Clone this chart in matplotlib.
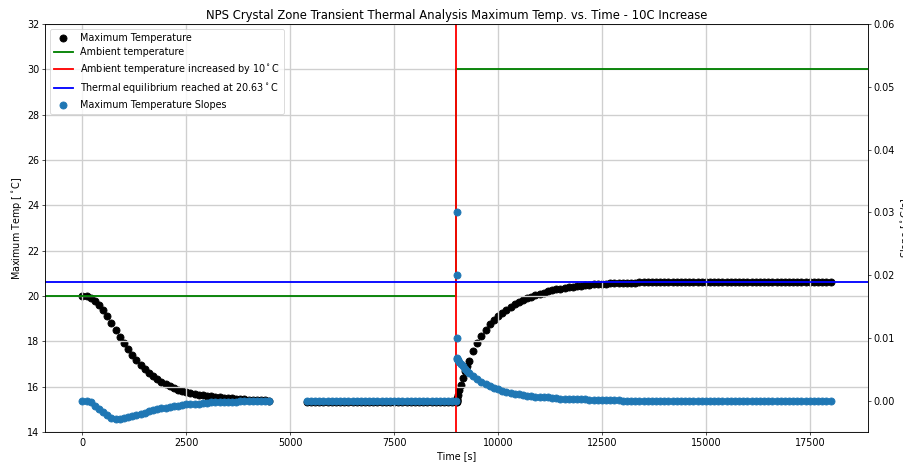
import matplotlib
matplotlib.use("Agg")
import matplotlib.pyplot as plt
import numpy as np

# --- data --------------------------------------------------------------
# cooldown phase (ambient 20 C)
time_1 = [0, 100, 200, 300, 400, 500, 600, 700, 800, 900,
          1000, 1100, 1200, 1300, 1400, 1500, 1600, 1700, 1800, 1900,
          2000, 2100, 2200, 2300, 2400, 2500, 2600, 2700, 2800, 2900,
          3000, 3100, 3200, 3300, 3400, 3500, 3600, 3700, 3800, 3900,
          4000, 4100, 4200, 4300, 4400, 4500]
temp_1 = [20.00, 19.98, 19.92, 19.80, 19.62, 19.38, 19.10, 18.80, 18.50, 18.20,
          17.92, 17.65, 17.40, 17.17, 16.96, 16.77, 16.60, 16.45, 16.32, 16.20,
          16.10, 16.01, 15.93, 15.86, 15.80, 15.75, 15.71, 15.67, 15.65, 15.62,
          15.60, 15.58, 15.56, 15.54, 15.52, 15.50, 15.48, 15.47, 15.45, 15.44,
          15.43, 15.42, 15.41, 15.40, 15.39, 15.38]
slope_1 = [0.0000, -0.0001, -0.0003, -0.0008, -0.0013, -0.0018, -0.0023, -0.0027, -0.0029, -0.0029,
           -0.0028, -0.0026, -0.0025, -0.0023, -0.0021, -0.0019, -0.0017, -0.0015, -0.0013, -0.0012,
           -0.0011, -0.0010, -0.0009, -0.0008, -0.0007, -0.0006, -0.0006, -0.0005, -0.0005, -0.0004,
           -0.0004, -0.0003, -0.0003, -0.0003, -0.0002, -0.0002, -0.0002, -0.0002, -0.0001, -0.0001,
           -0.0001, -0.0001, -0.0001, 0.0000, 0.0000, 0.0000]

# steady state before the step
time_2 = [5400, 5500, 5600, 5700, 5800, 5900, 6000, 6100, 6200, 6300,
          6400, 6500, 6600, 6700, 6800, 6900, 7000, 7100, 7200, 7300,
          7400, 7500, 7600, 7700, 7800, 7900, 8000, 8100, 8200, 8300,
          8400, 8500, 8600, 8700, 8800, 8900, 9000]
temp_2 = [15.34, 15.34, 15.34, 15.34, 15.34, 15.34, 15.34, 15.34, 15.34, 15.34,
          15.34, 15.33, 15.33, 15.33, 15.33, 15.33, 15.33, 15.33, 15.33, 15.33,
          15.33, 15.33, 15.33, 15.33, 15.33, 15.33, 15.33, 15.33, 15.33, 15.33,
          15.33, 15.33, 15.33, 15.33, 15.33, 15.33, 15.33]
slope_2 = [0.0] * 37

# warm-up after ambient +10 C
time_3 = [9001, 9003, 9006, 9010, 9020, 9040, 9070, 9100, 9150, 9200,
          9250, 9300, 9400, 9500, 9600, 9700, 9800, 9900, 10000, 10100,
          10200, 10300, 10400, 10500, 10600, 10700, 10800, 10900, 11000, 11100,
          11200, 11300, 11400, 11500, 11600, 11700, 11800, 11900, 12000, 12100,
          12200, 12300, 12400, 12500, 12600, 12700, 12800, 12900, 13000, 13100,
          13200, 13300, 13400, 13500, 13600, 13700, 13800, 13900, 14000, 14100,
          14200, 14300, 14400, 14500, 14600, 14700, 14800, 14900, 15000, 15100,
          15200, 15300, 15400, 15500, 15600, 15700, 15800, 15900, 16000, 16100,
          16200, 16300, 16400, 16500, 16600, 16700, 16800, 16900, 17000, 17100,
          17200, 17300, 17400, 17500, 17600, 17700, 17800, 17900, 18000]
temp_3 = [15.34, 15.36, 15.39, 15.42, 15.49, 15.63, 15.86, 16.08, 16.40, 16.67,
          16.92, 17.15, 17.58, 17.94, 18.25, 18.52, 18.75, 18.94, 19.11, 19.26,
          19.40, 19.52, 19.63, 19.73, 19.82, 19.90, 19.97, 20.04, 20.10, 20.15,
          20.20, 20.25, 20.29, 20.32, 20.35, 20.38, 20.41, 20.43, 20.45, 20.47,
          20.49, 20.51, 20.52, 20.54, 20.55, 20.56, 20.57, 20.58, 20.58, 20.59,
          20.59, 20.59, 20.60, 20.60, 20.60, 20.61, 20.61, 20.61, 20.61, 20.62,
          20.62, 20.62, 20.62, 20.62, 20.62, 20.62, 20.62, 20.63, 20.62, 20.62,
          20.63, 20.62, 20.62, 20.63, 20.62, 20.63, 20.62, 20.62, 20.63, 20.62,
          20.63, 20.62, 20.62, 20.63, 20.62, 20.62, 20.63, 20.62, 20.62, 20.63,
          20.62, 20.62, 20.63, 20.62, 20.62, 20.63, 20.62, 20.62, 20.62]
slope_3 = [0.0300, 0.0200, 0.0100, 0.0068, 0.0067, 0.0065, 0.0062, 0.0059, 0.0055, 0.0051,
           0.0047, 0.0044, 0.0039, 0.0034, 0.0030, 0.0026, 0.0023, 0.0020, 0.0018, 0.0016,
           0.0014, 0.0012, 0.0011, 0.0010, 0.0009, 0.0008, 0.0007, 0.0006, 0.0006, 0.0005,
           0.0005, 0.0004, 0.0004, 0.0003, 0.0003, 0.0003, 0.0002, 0.0002, 0.0002, 0.0002,
           0.0001, 0.0001, 0.0001, 0.0001, 0.0001, 0.0001, 0.0001, 0.0001, 0.0000] + [0.0] * 50

ambient_start = 20.0
ambient_raised = 30.0
step_time = 9000
equilibrium_temp = 20.63

time = time_1 + time_2 + time_3
max_temp = temp_1 + temp_2 + temp_3
max_slope = slope_1 + slope_2 + slope_3

# --- figure (drawn at 60 dpi, the original was a larger figure scaled down)
plt.rcParams.update({
    'font.size': 11.5,
    'axes.titlesize': 13.9,
    'lines.linewidth': 2.2,
    'grid.color': '#cfcfcf',
    'grid.linewidth': 1.6,
})

fig = plt.figure(figsize=(903 / 60, 463 / 60), dpi=60)
ax = fig.add_axes([0.0498, 0.067, 0.9114, 0.881])
ax2 = ax.twinx()

ax.set_xlim(-900, 18900)
ax.set_ylim(14, 32)
ax2.set_ylim(-0.005, 0.06)

x0, x1 = ax.get_xlim()
ax.scatter(time, max_temp, s=72, color='black', label='Maximum Temperature')
ax.plot([x0, step_time, step_time, x1],
        [ambient_start, ambient_start, ambient_raised, ambient_raised],
        color='green', label='Ambient temperature')
ax.axvline(step_time, color='red', label='Ambient temperature increased by 10$^\\circ$C')
ax.axhline(equilibrium_temp, color='blue',
           label=f'Thermal equilibrium reached at {equilibrium_temp:.2f}$^\\circ$C')
ax2.scatter(time, max_slope, s=72, color='tab:blue', label='Maximum Temperature Slopes')

ax.grid(True)
ax.set_xlabel('Time [s]')
ax.set_ylabel('Maximum Temp [$^\\circ$C]')
ax2.set_ylabel('Slope [$^\\circ$C/s]')
ax.set_title('NPS Crystal Zone Transient Thermal Analysis Maximum Temp. vs. Time - 10C Increase')

h1, l1 = ax.get_legend_handles_labels()
h2, l2 = ax2.get_legend_handles_labels()
ax2.legend(h1 + h2, l1 + l2, loc='upper left')

fig.savefig('out.png', dpi=60)
